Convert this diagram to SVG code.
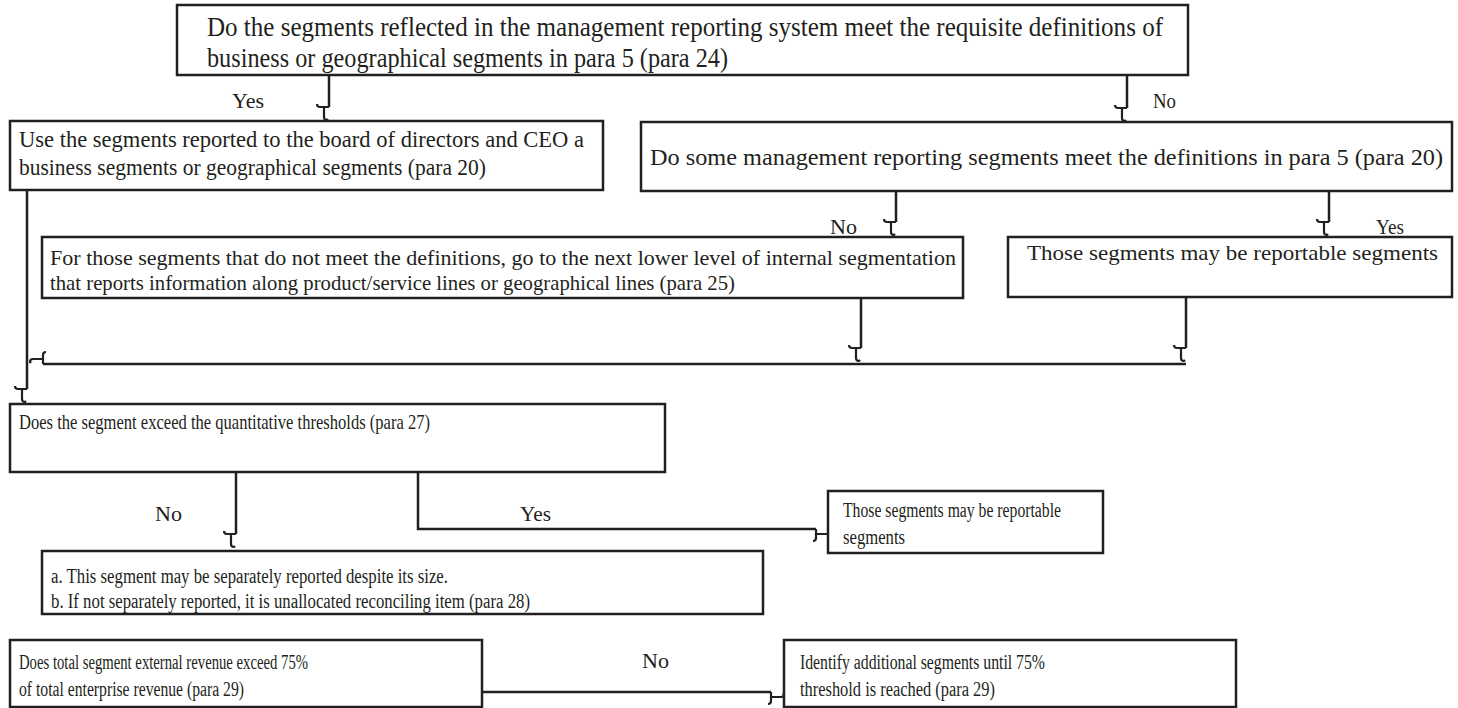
<svg xmlns="http://www.w3.org/2000/svg" width="1458" height="708" viewBox="0 0 1458 708">
<style>
.box{fill:#fff;stroke:#231f20;stroke-width:2.5}
text{font-family:"Liberation Serif","Times New Roman",serif;fill:#231f20}
.c{fill:none;stroke:#231f20;stroke-width:2.5}
</style>
<defs>
<marker id="tau" markerUnits="userSpaceOnUse" markerWidth="30" markerHeight="30" refX="0" refY="0" orient="auto" overflow="visible">
<path d="M -3,12 Q 0,12 0,9 L 0,0 M 0,5 L 10,5 Q 13,5 13,2 L 12,1" fill="none" stroke="#231f20" stroke-width="2.2"/>
</marker>
</defs>
<rect width="1458" height="708" fill="#fff"/>

<g id="connectors">
<path class="c" d="M329,75 V107" marker-end="url(#tau)"/>
<path class="c" d="M1127,75 V108" marker-end="url(#tau)"/>
<path class="c" d="M896,191 V222" marker-end="url(#tau)"/>
<path class="c" d="M1329,191 V222" marker-end="url(#tau)"/>
<path class="c" d="M861,298 V348" marker-end="url(#tau)"/>
<path class="c" d="M1186,297 V348" marker-end="url(#tau)"/>
<path class="c" d="M1186,364 H43" marker-end="url(#tau)"/>
<path class="c" d="M27,190 V389" marker-end="url(#tau)"/>
<path class="c" d="M236,472 V534" marker-end="url(#tau)"/>
<path class="c" d="M418,472 V529 H816" marker-end="url(#tau)"/>
<path class="c" d="M482,692 H771" marker-end="url(#tau)"/>
<g font-size="20">
<text x="232" y="108" textLength="32" lengthAdjust="spacingAndGlyphs">Yes</text>
<text x="1153" y="108" textLength="23" lengthAdjust="spacingAndGlyphs">No</text>
<text x="830" y="234" textLength="27" lengthAdjust="spacingAndGlyphs">No</text>
<text x="1376" y="234" textLength="28" lengthAdjust="spacingAndGlyphs">Yes</text>
<text x="155" y="521" textLength="27" lengthAdjust="spacingAndGlyphs">No</text>
<text x="520" y="521" textLength="31" lengthAdjust="spacingAndGlyphs">Yes</text>
<text x="642" y="668" textLength="27" lengthAdjust="spacingAndGlyphs">No</text>
</g>
</g>

<g id="n1" font-size="27">
<rect class="box" x="177" y="5" width="1011" height="70"/>
<text x="207" y="36" textLength="956" lengthAdjust="spacingAndGlyphs">Do the segments reflected in the management reporting system meet the requisite definitions of</text>
<text x="207" y="67" textLength="521" lengthAdjust="spacingAndGlyphs">business or geographical segments in para 5 (para 24)</text>
</g>

<g id="n2" font-size="23">
<rect class="box" x="10" y="121" width="593" height="69"/>
<text x="19" y="147" textLength="565" lengthAdjust="spacingAndGlyphs">Use the segments reported to the board of directors and CEO a</text>
<text x="19" y="175" textLength="467" lengthAdjust="spacingAndGlyphs">business segments or geographical segments (para 20)</text>
</g>

<g id="n3" font-size="23">
<rect class="box" x="641" y="122" width="811" height="69"/>
<text x="650" y="165" textLength="793" lengthAdjust="spacingAndGlyphs">Do some management reporting segments meet the definitions in para 5 (para 20)</text>
</g>

<g id="n4" font-size="22">
<rect class="box" x="42" y="237" width="921" height="61"/>
<text x="50" y="265" textLength="906" lengthAdjust="spacingAndGlyphs">For those segments that do not meet the definitions, go to the next lower level of internal segmentation</text>
<text x="50" y="290" textLength="685" lengthAdjust="spacingAndGlyphs">that reports information along product/service lines or geographical lines (para 25)</text>
</g>

<g id="n5" font-size="22">
<rect class="box" x="1008" y="237" width="444" height="60"/>
<text x="1027" y="260" textLength="411" lengthAdjust="spacingAndGlyphs">Those segments may be reportable segments</text>
</g>

<g id="n6" font-size="21">
<rect class="box" x="10" y="404" width="655" height="68"/>
<text x="19" y="429" textLength="411" lengthAdjust="spacingAndGlyphs">Does the segment exceed the quantitative thresholds (para 27)</text>
</g>

<g id="n7" font-size="20">
<rect class="box" x="42" y="551" width="721" height="63"/>
<text x="51" y="583" textLength="397" lengthAdjust="spacingAndGlyphs">a.  This segment may be separately reported despite its size.</text>
<text x="51" y="608" textLength="479" lengthAdjust="spacingAndGlyphs">b.  If not separately reported, it is unallocated reconciling item (para 28)</text>
</g>

<g id="n8" font-size="20">
<rect class="box" x="828" y="491" width="275" height="62"/>
<text x="843" y="517" textLength="218" lengthAdjust="spacingAndGlyphs">Those segments may be reportable</text>
<text x="843" y="544" textLength="62" lengthAdjust="spacingAndGlyphs">segments</text>
</g>

<g id="n9" font-size="20">
<rect class="box" x="10" y="640" width="472" height="67"/>
<text x="19" y="669" textLength="289" lengthAdjust="spacingAndGlyphs">Does total segment external revenue exceed 75%</text>
<text x="19" y="696" textLength="225" lengthAdjust="spacingAndGlyphs">of total enterprise revenue (para 29)</text>
</g>

<g id="n10" font-size="20">
<rect class="box" x="784" y="640" width="452" height="67"/>
<text x="800" y="669" textLength="245" lengthAdjust="spacingAndGlyphs">Identify additional segments until 75%</text>
<text x="800" y="696" textLength="195" lengthAdjust="spacingAndGlyphs">threshold is reached (para 29)</text>
</g>
</svg>
